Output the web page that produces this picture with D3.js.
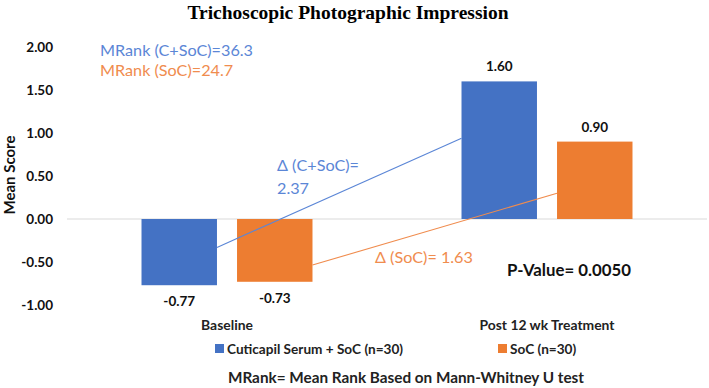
<!DOCTYPE html>
<html>
<head>
<meta charset="utf-8">
<script src="https://cdn.jsdelivr.net/npm/d3@7"></script>
<style>
  body { margin: 0; background: #fff; }
  svg text { font-family: Lato, "Open Sans", sans-serif; }
</style>
</head>
<body>
<svg id="chart" width="709" height="388"></svg>
<script>
// chart data
const categories = ["Baseline", "Post 12 wk Treatment"];
const seriesNames = ["Cuticapil Serum + SoC (n=30)", "SoC (n=30)"];
const cuticapilValues = [-0.77, 1.60];
const socValues = [-0.73, 0.90];
const yTicks = [-1.0, -0.5, 0.0, 0.5, 1.0, 1.5, 2.0];
// change lines (start value at baseline, end value at post)
const deltaLineCuticapil = [-0.33, 0.94];
const deltaLineSoc = [-0.535, 0.30];

const colors = ["#4472C4", "#ED7D31"];
const annoColors = ["#5B86D6", "#F08C4E"];

// plain hyphen for negatives, like the original
const fmt = d => d.toFixed(2);

const svg = d3.select("#chart");
const plotLeft = 67, plotRight = 707;

const y = d3.scaleLinear().domain([-1, 2]).range([305, 47]);
const x0 = d3.scaleBand().domain(categories).range([plotLeft, plotRight]).paddingInner(0).paddingOuter(0);
const x1 = d3.scaleBand().domain(seriesNames).range([0, x0.bandwidth()]).paddingInner(0.21).paddingOuter(0.78);

// title
svg.append("text")
    .attr("x", 348).attr("y", 19)
    .attr("text-anchor", "middle")
    .style("font-family", "'Liberation Serif', 'Times New Roman', serif")
    .style("font-weight", "bold")
    .style("font-size", "19.5px")
    .text("Trichoscopic Photographic Impression");

// y axis tick labels (no axis line)
const yAxis = svg.append("g")
    .attr("transform", `translate(${plotLeft - 14},0)`)
    .call(d3.axisLeft(y).tickValues(yTicks).tickFormat(fmt).tickSize(0).tickPadding(0));
yAxis.select(".domain").remove();
yAxis.selectAll("text")
    .style("font-family", "Lato, sans-serif")
    .style("font-size", "13.5px")
    .style("font-weight", "bold")
    .attr("fill", "#111");

// y axis title
svg.append("text")
    .attr("transform", "translate(15,175) rotate(-90)")
    .attr("text-anchor", "middle")
    .style("font-size", "15px")
    .style("font-weight", "bold")
    .attr("fill", "#111")
    .text("Mean Score");

// zero line
svg.append("line")
    .attr("x1", plotLeft).attr("x2", plotRight)
    .attr("y1", y(0)).attr("y2", y(0))
    .attr("stroke", "#d9d9d9").attr("stroke-width", 1);

// bars
const rows = categories.map((c, i) => ({ cat: c, vals: [cuticapilValues[i], socValues[i]] }));
const groups = svg.selectAll(".grp")
    .data(rows)
    .enter().append("g")
    .attr("class", "grp")
    .attr("transform", d => `translate(${x0(d.cat)},0)`);

groups.selectAll("rect")
    .data(d => d.vals.map((v, j) => ({ name: seriesNames[j], v: v, j: j })))
    .enter().append("rect")
    .attr("x", d => x1(d.name))
    .attr("width", x1.bandwidth())
    .attr("y", d => Math.min(y(0), y(d.v)))
    .attr("height", d => Math.abs(y(d.v) - y(0)))
    .attr("fill", d => colors[d.j]);

groups.selectAll(".val")
    .data(d => d.vals.map((v, j) => ({ name: seriesNames[j], v: v, j: j })))
    .enter().append("text")
    .attr("class", "val")
    .attr("x", d => x1(d.name) + x1.bandwidth() / 2)
    .attr("y", d => d.v >= 0 ? y(d.v) - 10 : y(d.v) + 21)
    .attr("text-anchor", "middle")
    .style("font-size", "13.5px")
    .style("font-weight", "bold")
    .attr("fill", "#111")
    .text(d => fmt(d.v));

// category labels
svg.selectAll(".cat")
    .data(categories)
    .enter().append("text")
    .attr("class", "cat")
    .attr("x", d => x0(d) + x0.bandwidth() / 2)
    .attr("y", 330)
    .attr("text-anchor", "middle")
    .style("font-size", "13.9px")
    .style("font-weight", "bold")
    .attr("fill", "#222")
    .text(d => d);

// delta lines, from right edge of baseline bar to left edge of post bar
[deltaLineCuticapil, deltaLineSoc].forEach((ln, j) => {
    const xa = x0(categories[0]) + x1(seriesNames[j]) + x1.bandwidth();
    const xb = x0(categories[1]) + x1(seriesNames[j]);
    svg.append("line")
        .attr("x1", xa).attr("y1", y(ln[0]))
        .attr("x2", xb).attr("y2", y(ln[1]))
        .attr("stroke", annoColors[j])
        .attr("stroke-width", 1.1);
});

// annotations
const anno = svg.append("g").style("font-size", "16.2px");
anno.append("text").attr("x", 100).attr("y", 56).attr("fill", annoColors[0]).text("MRank (C+SoC)=36.3");
anno.append("text").attr("x", 100).attr("y", 76).attr("fill", annoColors[1]).text("MRank (SoC)=24.7");
anno.append("text").attr("x", 277).attr("y", 171).attr("fill", annoColors[0]).text("Δ (C+SoC)=");
anno.append("text").attr("x", 277).attr("y", 194).attr("fill", annoColors[0]).text("2.37");
anno.append("text").attr("x", 375).attr("y", 263).attr("fill", annoColors[1]).text("Δ (SoC)= 1.63");

svg.append("text")
    .attr("x", 507).attr("y", 276)
    .style("font-size", "16.8px")
    .style("font-weight", "bold")
    .attr("fill", "#111")
    .text("P-Value= 0.0050");

// legend
const legendX = [215, 498];
const legend = svg.selectAll(".leg")
    .data(seriesNames)
    .enter().append("g")
    .attr("class", "leg")
    .attr("transform", (d, i) => `translate(${legendX[i]},344)`);
legend.append("rect")
    .attr("width", 9).attr("height", 9)
    .attr("fill", (d, i) => colors[i]);
legend.append("text")
    .attr("x", 12).attr("y", 9.5)
    .style("font-size", "13.6px")
    .style("font-weight", "bold")
    .attr("fill", "#222")
    .text(d => d);

// footnote
svg.append("text")
    .attr("x", 406).attr("y", 383)
    .attr("text-anchor", "middle")
    .style("font-size", "15.3px")
    .style("font-weight", "bold")
    .attr("fill", "#222")
    .text("MRank= Mean Rank Based on Mann-Whitney U test");
</script>
</body>
</html>
